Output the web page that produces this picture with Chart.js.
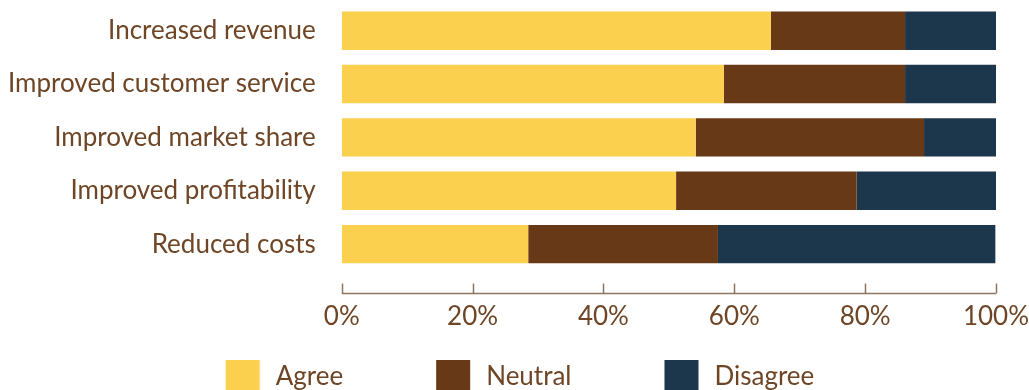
<!DOCTYPE html>
<html>
<head>
<meta charset="utf-8">
<script src="https://cdn.jsdelivr.net/npm/chart.js@4.4.0/dist/chart.umd.min.js"></script>
<style>
  html, body { margin: 0; padding: 0; background: #fff; overflow: hidden; }
  #wrap { width: 1029px; height: 400px; }
</style>
</head>
<body>
<div id="wrap"><canvas id="mycanvas"></canvas></div>
<script>
var categories = ['Increased revenue', 'Improved customer service', 'Improved market share', 'Improved profitability', 'Reduced costs'];
var agree = [65.6, 58.4, 54.1, 51.1, 28.5];
var neutral = [20.5, 27.7, 34.9, 27.6, 29.0];
var disagree = [13.9, 13.9, 11.0, 21.3, 42.4];
var xTicks = [0, 20, 40, 60, 80, 100];

var textColor = '#6E4626';
var axisColor = '#8E7561';
var fontFamily = 'Lato';

// axis line sits a bit below the last bar, ticks point up
var axisLine = {
  id: 'axisLine',
  afterDraw: function (chart) {
    var ctx = chart.ctx;
    var x = chart.scales.x;
    var y = Math.round(chart.chartArea.bottom + 22) + 0.5;
    ctx.save();
    ctx.strokeStyle = axisColor;
    ctx.lineWidth = 1.5;
    ctx.beginPath();
    ctx.moveTo(x.getPixelForValue(xTicks[0]), y);
    ctx.lineTo(x.getPixelForValue(xTicks[xTicks.length - 1]), y);
    for (var i in xTicks) {
      var px = Math.round(x.getPixelForValue(xTicks[i])) + 0.5;
      ctx.moveTo(px, y);
      ctx.lineTo(px, y - 10);
    }
    ctx.stroke();
    ctx.restore();
  }
};

// legend drawn by hand, wide gaps between items
var bottomLegend = {
  id: 'bottomLegend',
  afterDraw: function (chart) {
    var ctx = chart.ctx;
    var sets = chart.data.datasets;
    var box = 34, gap = 16, spacing = 93, top = 360;
    ctx.save();
    ctx.font = '26px ' + fontFamily;
    var widths = [];
    var total = 0;
    for (var i = 0; i < sets.length; i++) {
      var w = box + gap + ctx.measureText(sets[i].label).width;
      widths.push(w);
      total += w;
    }
    total += spacing * (sets.length - 1);
    var x = 520 - total / 2;
    ctx.textBaseline = 'middle';
    for (var j = 0; j < sets.length; j++) {
      ctx.fillStyle = sets[j].backgroundColor;
      ctx.fillRect(x, top, box, box);
      ctx.fillStyle = textColor;
      ctx.fillText(sets[j].label, x + box + gap, top + 17);
      x += widths[j] + spacing;
    }
    ctx.restore();
  }
};

var chartdata = {
  labels: categories,
  datasets: [
    { label: 'Agree', backgroundColor: '#FCD04F', data: agree },
    { label: 'Neutral', backgroundColor: '#673916', data: neutral },
    { label: 'Disagree', backgroundColor: '#1C364C', data: disagree }
  ]
};

var ctx = document.getElementById('mycanvas');
var barGraph = new Chart(ctx, {
  type: 'bar',
  data: chartdata,
  plugins: [axisLine, bottomLegend],
  options: {
    indexAxis: 'y',
    responsive: true,
    maintainAspectRatio: false,
    animation: false,
    datasets: { bar: { categoryPercentage: 1, barPercentage: 0.72 } },
    layout: { padding: { top: 4, right: 0, left: -18, bottom: 38 } },
    plugins: {
      tooltip: { enabled: false },
      legend: { display: false }
    },
    scales: {
      x: {
        stacked: true,
        min: 0,
        max: 100,
        grid: { display: false, drawTicks: false },
        border: { display: false },
        ticks: {
          stepSize: 20,
          padding: 30,
          color: textColor,
          font: { family: fontFamily, size: 26 },
          callback: function (v) { return v + '%'; }
        },
        afterFit: function (scale) {
          scale.paddingLeft = 0;
          scale.paddingRight = 33;
        }
      },
      y: {
        stacked: true,
        grid: { display: false, drawTicks: false },
        border: { display: false },
        ticks: {
          padding: 26,
          color: textColor,
          font: { family: fontFamily, size: 26 }
        },
        afterFit: function (scale) {
          scale.paddingTop = 0;
          scale.paddingBottom = 0;
        }
      }
    }
  }
});
</script>
</body>
</html>
